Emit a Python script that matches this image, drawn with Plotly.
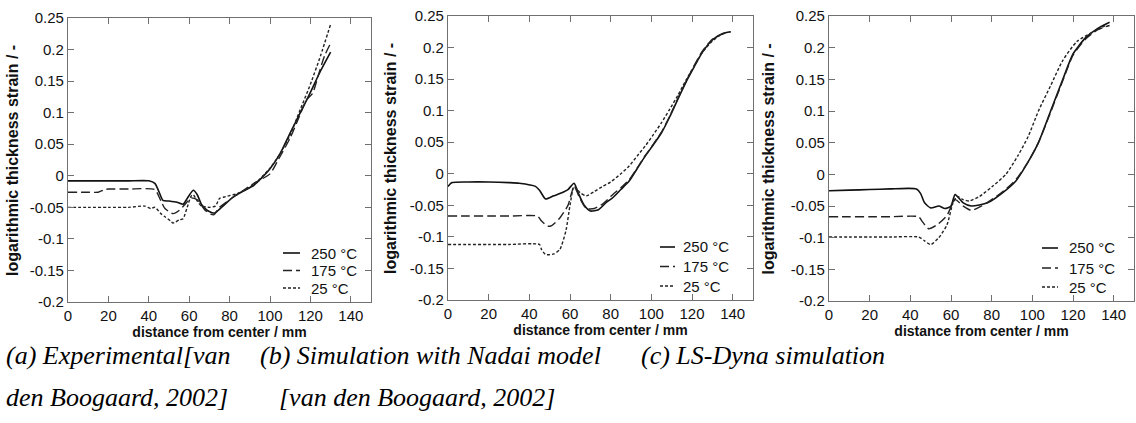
import plotly.graph_objects as go

# ---------------- data ----------------
series_names = ["250 °C", "175 °C", "25 °C"]

# (a) Experimental
xa_250 = [0, 10, 20, 30, 40, 43, 45, 47, 50, 54, 57, 59, 62, 64, 66, 69, 72.5, 76, 82, 87, 92, 96, 100, 105, 110, 115, 120, 125, 130]
ya_250 = [-0.008, -0.008, -0.008, -0.008, -0.008, -0.012, -0.025, -0.039, -0.04, -0.042, -0.045, -0.036, -0.023, -0.03, -0.045, -0.055, -0.059, -0.05, -0.033, -0.024, -0.015, -0.003, 0.011, 0.035, 0.068, 0.1, 0.132, 0.166, 0.196]
xa_175 = [0, 10, 15, 18, 20, 30, 43, 46, 48, 52, 55, 58, 61, 64, 68, 72, 75, 80, 86, 92, 100, 104, 110, 114, 118, 121, 124, 127, 130]
ya_175 = [-0.026, -0.026, -0.026, -0.022, -0.021, -0.021, -0.022, -0.04, -0.052, -0.06, -0.055, -0.045, -0.035, -0.038, -0.055, -0.062, -0.05, -0.038, -0.025, -0.012, 0.003, 0.025, 0.06, 0.09, 0.12, 0.13, 0.16, 0.19, 0.21]
xa_25 = [0, 10, 20, 30, 38, 41, 43, 46, 48, 51, 52, 55, 57, 59, 61, 62, 64, 66, 70, 73, 75, 78, 84, 90, 95, 100, 105, 110, 115, 120, 125, 130]
ya_25 = [-0.05, -0.05, -0.05, -0.05, -0.048, -0.052, -0.05, -0.06, -0.065, -0.072, -0.075, -0.07, -0.068, -0.05, -0.032, -0.03, -0.04, -0.048, -0.05, -0.048, -0.036, -0.033, -0.028, -0.018, -0.005, 0.012, 0.035, 0.065, 0.105, 0.145, 0.19, 0.24]

# (b) Simulation with Nadai model
xb_250 = [0, 2, 10, 20, 30, 35, 43, 45, 48, 52, 56, 59, 62, 64, 67, 70, 74, 78, 81, 85, 89, 93, 97, 101, 105, 109, 113, 117, 121, 125, 130, 135, 139]
yb_250 = [-0.02, -0.014, -0.013, -0.013, -0.014, -0.015, -0.02, -0.026, -0.04, -0.035, -0.03, -0.025, -0.015, -0.03, -0.05, -0.059, -0.057, -0.045, -0.038, -0.025, -0.012, 0.008, 0.028, 0.046, 0.065, 0.09, 0.118, 0.145, 0.169, 0.192, 0.212, 0.222, 0.225]
xb_175 = [0, 10, 20, 30, 44, 46, 49, 51, 55, 59, 62, 65, 68, 72, 76, 80, 85, 89, 93, 97, 101, 105, 109, 113, 117, 121, 125, 130, 135, 139]
yb_175 = [-0.067, -0.067, -0.067, -0.067, -0.067, -0.075, -0.083, -0.082, -0.07, -0.05, -0.02, -0.04, -0.055, -0.055, -0.048, -0.036, -0.022, -0.01, 0.009, 0.029, 0.047, 0.066, 0.091, 0.119, 0.146, 0.171, 0.194, 0.213, 0.222, 0.225]
xb_25 = [0, 10, 20, 30, 45, 46, 48, 52, 55, 58, 60, 62, 65, 68, 72, 76, 80, 85, 89, 93, 97, 101, 105, 109, 113, 117, 121, 125, 129, 133, 137]
yb_25 = [-0.112, -0.112, -0.112, -0.112, -0.112, -0.12, -0.128, -0.127, -0.12, -0.09, -0.05, -0.02, -0.03, -0.035, -0.028, -0.02, -0.013, 0.0, 0.012, 0.028, 0.044, 0.062, 0.081, 0.102, 0.124, 0.148, 0.17, 0.192, 0.207, 0.218, 0.224]

# (c) LS-Dyna simulation
xc_250 = [0, 10, 20, 30, 43, 45, 47, 50, 54, 57, 60, 62, 66, 70, 78, 85, 92, 98, 103, 109, 115, 120, 126, 132, 138]
yc_250 = [-0.026, -0.025, -0.024, -0.023, -0.023, -0.03, -0.045, -0.053, -0.05, -0.054, -0.05, -0.032, -0.045, -0.05, -0.045, -0.03, -0.01, 0.02, 0.05, 0.1, 0.15, 0.19, 0.215, 0.23, 0.24]
xc_175 = [0, 10, 20, 30, 44, 46, 49, 53, 58, 62, 66, 70, 75, 80, 86, 92, 98, 103, 109, 115, 120, 126, 132, 138]
yc_175 = [-0.067, -0.067, -0.067, -0.067, -0.067, -0.075, -0.086, -0.08, -0.065, -0.04, -0.05, -0.057, -0.05, -0.04, -0.026, -0.008, 0.02, 0.05, 0.098, 0.148, 0.188, 0.213, 0.228, 0.235]
xc_25 = [0, 10, 20, 30, 44, 47, 50, 54, 58, 61, 63, 66, 69, 74, 80, 87, 93, 98, 103, 109, 115, 122, 130, 136]
yc_25 = [-0.099, -0.099, -0.099, -0.099, -0.099, -0.105, -0.111, -0.1, -0.08, -0.045, -0.035, -0.04, -0.042, -0.035, -0.02, 0.0, 0.03, 0.06, 0.1, 0.14, 0.18, 0.21, 0.225, 0.235]

x_tickvals = [0, 20, 40, 60, 80, 100, 120, 140]
x_ticktext = ["0", "20", "40", "60", "80", "100", "120", "140"]
y_tickvals = [-0.2, -0.15, -0.1, -0.05, 0, 0.05, 0.1, 0.15, 0.2, 0.25]
y_ticktext = ["-0.2", "-0.15", "-0.1", "-0.05", "0", "0.05", "0.1", "0.15", "0.2", "0.25"]

x_title = "distance from center / mm"
y_title = "logarithmic thickness strain / -"
captions = [
    ["(a) Experimental[van", "den Boogaard, 2002]"],
    ["(b) Simulation with Nadai model", "[van den Boogaard, 2002]"],
    ["(c) LS-Dyna simulation"],
]

# ---------------- layout geometry (pixels) ----------------
W, H = 1136, 423
panels_px = [  # left, right, top, bottom of plot frames
    (68, 371, 18, 302),
    (448, 753, 16, 300),
    (829, 1134, 16, 301),
]
ytitle_x_px = [12, 390, 768]
# key: sample line x0, x1, text x, row y's
legends_px = [
    (283, 300, 309, [253, 270.5, 288]),
    (660, 675, 681, [247, 266.5, 286]),
    (1042, 1058, 1067, [248, 268, 287]),
]

panel_data = [
    [(xa_250, ya_250), (xa_175, ya_175), (xa_25, ya_25)],
    [(xb_250, yb_250), (xb_175, yb_175), (xb_25, yb_25)],
    [(xc_250, yc_250), (xc_175, yc_175), (xc_25, yc_25)],
]
styles = [
    dict(color="#111111", width=1.6, dash="solid"),
    dict(color="#222222", width=1.4, dash="9px,4px"),
    dict(color="#222222", width=1.4, dash="3px,2px"),
]

fig = go.Figure()
font_sans = "Liberation Sans"
frame_col = "#707070"
txt_col = "#111111"

for i, (l, r, t, b) in enumerate(panels_px):
    sfx = "" if i == 0 else str(i + 1)
    xa = "x" + sfx
    ya = "y" + sfx
    for (xs, ys), name, st in zip(panel_data[i], series_names, styles):
        fig.add_trace(go.Scatter(
            x=xs, y=ys, name=name, mode="lines",
            line=dict(color=st["color"], width=st["width"], dash=st["dash"],
                      shape="spline", smoothing=0.6),
            xaxis=xa, yaxis=ya, showlegend=False, hoverinfo="skip",
        ))
    axis_common = dict(
        showgrid=False, zeroline=False, showline=True, linecolor=frame_col, linewidth=1.2,
        mirror="ticks", ticks="inside", ticklen=6, tickcolor=frame_col, tickwidth=1.2,
        tickfont=dict(family=font_sans, size=15, color=txt_col), automargin=False,
    )
    fig.update_layout(**{
        "xaxis" + sfx: dict(
            domain=[l / W, r / W], range=[0, 150], anchor=ya,
            tickvals=x_tickvals, ticktext=x_ticktext,
            title=dict(text="<b>" + x_title + "</b>", standoff=0,
                       font=dict(family=font_sans, size=14, color=txt_col)),
            **axis_common),
        "yaxis" + sfx: dict(
            domain=[1 - b / H, 1 - t / H], range=[-0.2, 0.25], anchor=xa,
            tickvals=y_tickvals, ticktext=y_ticktext,
            **axis_common),
    })
    # y-axis title placed precisely
    fig.add_annotation(text="<b>" + y_title + "</b>", xref="paper", yref="paper",
                       x=ytitle_x_px[i] / W, y=1 - ((t + b) / 2 + 1) / H,
                       xanchor="center", yanchor="middle", textangle=-90,
                       showarrow=False, font=dict(family=font_sans, size=16, color=txt_col))
    # in-plot key (line samples + labels)
    lx0, lx1, tx, rows = legends_px[i]
    for name, st, ry in zip(series_names, styles, rows):
        fig.add_shape(type="line", xref="paper", yref="paper",
                      x0=lx0 / W, x1=lx1 / W, y0=1 - ry / H, y1=1 - ry / H,
                      line=dict(color=st["color"], width=st["width"], dash=st["dash"]))
        fig.add_annotation(text=name, xref="paper", yref="paper",
                           x=tx / W, y=1 - ry / H, xanchor="left", yanchor="middle",
                           showarrow=False, font=dict(family=font_sans, size=15, color=txt_col))

# captions
cap_font = dict(family="Liberation Serif", size=26, color="#000000")
cap_specs = [
    [(4, 355, "left"), (4, 397, "left")],
    [(258, 355, "left"), (417, 397, "center")],
    [(763, 355, "center")],
]
for lines, specs in zip(captions, cap_specs):
    for txt, (cx, cy, al) in zip(lines, specs):
        fig.add_annotation(
            text="<i>" + txt + "</i>", xref="paper", yref="paper",
            x=cx / W, y=1 - cy / H, xanchor=al, yanchor="middle",
            showarrow=False, font=cap_font,
        )

fig.update_layout(
    width=W, height=H, margin=dict(l=0, r=0, t=0, b=0),
    paper_bgcolor="white", plot_bgcolor="white", showlegend=False,
)

fig.write_html("out.html", config={"displayModeBar": False},
               post_script="document.body.style.margin='0px';")
